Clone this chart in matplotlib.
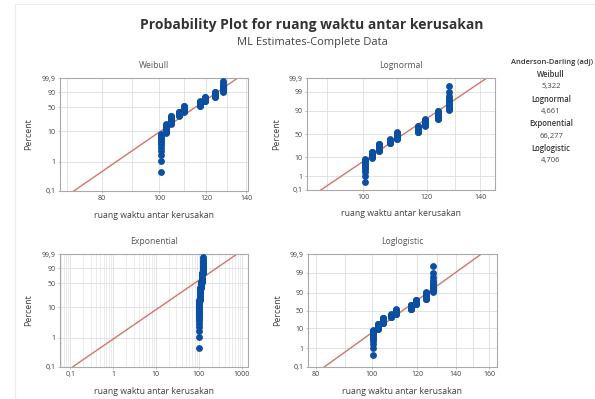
import math

import matplotlib

matplotlib.use("Agg")

import matplotlib.pyplot as plt  # noqa: E402
import numpy as np  # noqa: E402
from matplotlib.lines import Line2D  # noqa: E402
from matplotlib.ticker import FixedLocator, FuncFormatter, NullFormatter, NullLocator  # noqa: E402

plt.rcParams["font.family"] = ["Open Sans", "DejaVu Sans"]

# observed values (stacks of tied values) and how many in each stack
stack_values = [100.5, 102.5, 104.5, 108, 110, 117, 119.5, 124, 128]
stack_counts = [14, 13, 21, 14, 24, 22, 19, 18, 15]

# ML fit parameters
weibull_shape, weibull_scale = 13.9, 117.9
lognormal_loc, lognormal_scale = math.log(112.3), 0.0773
exponential_mean = 113.0
loglogistic_loc, loglogistic_scale = math.log(113.2), 0.0455

ad_names = ["Weibull", "Lognormal", "Exponential", "Loglogistic"]
ad_values = ["5,322", "4,661", "66,277", "4,706"]

ticks_pct_weib = [0.1, 1, 10, 50, 90, 99.9]
ticks_pct_norm = [0.1, 1, 10, 50, 90, 99, 99.9]

BLUE = "#0b4fa3"
RED = "#d27569"
GRID = "#e3e3e3"
SPINE = "#a9a9a9"
TEXT = "#404040"

_erf = np.vectorize(math.erf)


def norm_ppf(p):
    p = np.clip(np.asarray(p, dtype=float), 1e-12, 1 - 1e-12)
    a = [-3.969683028665376e+01, 2.209460984245205e+02, -2.759285104469687e+02,
         1.383577518672690e+02, -3.066479806614716e+01, 2.506628277459239e+00]
    b = [-5.447609879822406e+01, 1.615858368580409e+02, -1.556989798598866e+02,
         6.680131188771972e+01, -1.328068155288572e+01]
    c = [-7.784894002430293e-03, -3.223964580411365e-01, -2.400758277161838e+00,
         -2.549732539343734e+00, 4.374664141464968e+00, 2.938163982698783e+00]
    d = [7.784695709041462e-03, 3.224671290700398e-01, 2.445134137142996e+00,
         3.754408661907416e+00]
    plow = 0.02425
    q = np.sqrt(-2 * np.log(np.where(p < 0.5, p, 1 - p)))
    tail = (((((c[0] * q + c[1]) * q + c[2]) * q + c[3]) * q + c[4]) * q + c[5]) / \
        ((((d[0] * q + d[1]) * q + d[2]) * q + d[3]) * q + 1)
    tail = np.where(p < 0.5, tail, -tail)
    r0 = p - 0.5
    r = r0 * r0
    mid = (((((a[0] * r + a[1]) * r + a[2]) * r + a[3]) * r + a[4]) * r + a[5]) * r0 / \
        (((((b[0] * r + b[1]) * r + b[2]) * r + b[3]) * r + b[4]) * r + 1)
    return np.where((p < plow) | (p > 1 - plow), tail, mid)


def norm_cdf(z):
    return 0.5 * (1 + _erf(np.asarray(z, dtype=float) / math.sqrt(2)))


def _pct(y):
    return np.clip(np.asarray(y, dtype=float) / 100.0, 1e-9, 1 - 1e-9)


weib_scale = (lambda y: np.log(-np.log(1 - _pct(y))),
              lambda w: 100 * (1 - np.exp(-np.exp(np.asarray(w, dtype=float)))))
norm_scale = (lambda y: norm_ppf(_pct(y)),
              lambda z: 100 * norm_cdf(z))
logit_scale = (lambda y: np.log(_pct(y) / (1 - _pct(y))),
               lambda v: 100 / (1 + np.exp(-np.asarray(v, dtype=float))))

comma = FuncFormatter(lambda v, pos: f"{v:g}".replace(".", ","))

# plotting positions: median ranks, ties kept as separate ranks
data = np.repeat(stack_values, stack_counts)
n = len(data)
ranks = np.arange(1, n + 1)
plot_pct = (ranks - 0.3) / (n + 0.4) * 100

line_p = np.linspace(0.001, 0.999, 50)
z = norm_ppf(line_p)
logit = np.log(line_p / (1 - line_p))
fits = {
    "Weibull": weibull_scale * (-np.log(1 - line_p)) ** (1 / weibull_shape),
    "Lognormal": np.exp(lognormal_loc + lognormal_scale * z),
    "Exponential": -exponential_mean * np.log(1 - line_p),
    "Loglogistic": np.exp(loglogistic_loc + loglogistic_scale * logit),
}

panels = [
    # name, axes box in px (left, top, right, bottom), y scale, y ticks, xlim, x ticks, x grid
    ("Weibull", (60, 78, 248, 191), weib_scale, ticks_pct_weib, (68, 141),
     [80, 100, 120, 140], list(range(70, 141, 10))),
    ("Lognormal", (307, 78, 495, 190), norm_scale, ticks_pct_norm, (85, 146),
     [100, 120, 140], list(range(90, 141, 10))),
    ("Exponential", (60, 254, 248, 367), weib_scale, ticks_pct_weib, (0.058, 1400),
     [0.1, 1, 10, 100, 1000],
     [m * 10.0 ** e for e in range(-2, 4) for m in range(2, 10)]),
    ("Loglogistic", (308, 254, 497, 367), logit_scale, ticks_pct_norm, (77.5, 165),
     [80, 100, 120, 140, 160], list(range(80, 161, 10))),
]

W, H = 595, 399
fig = plt.figure(figsize=(W / 100, H / 100), dpi=100)

for name, (l, t, r, b), yscale, yticks, xlim, xticks, xgrid in panels:
    ax = fig.add_axes([l / W, 1 - b / H, (r - l) / W, (b - t) / H])
    ax.set_xscale("log")
    ax.set_yscale("function", functions=yscale)
    ax.plot(fits[name], line_p * 100, color=RED, lw=1.0, zorder=2)
    ax.plot(data, plot_pct, "o", color=BLUE, ms=3.9, mec=BLUE, zorder=3)
    ax.set_xlim(*xlim)
    ax.set_ylim(0.1, 99.9)
    ax.xaxis.set_major_locator(FixedLocator(xticks))
    ax.xaxis.set_minor_locator(FixedLocator([g for g in xgrid if g not in xticks]))
    ax.xaxis.set_major_formatter(comma)
    ax.xaxis.set_minor_formatter(NullFormatter())
    ax.yaxis.set_major_locator(FixedLocator(yticks))
    ax.yaxis.set_minor_locator(NullLocator())
    ax.yaxis.set_major_formatter(comma)
    minor_grid = "#ececec" if name == "Exponential" else GRID
    ax.grid(True, which="major", axis="x", color=GRID, lw=0.7)
    ax.grid(True, which="minor", axis="x", color=minor_grid, lw=0.7)
    ax.grid(True, which="major", axis="y", color=GRID, lw=0.7)
    ax.set_axisbelow(True)
    for spine in ax.spines.values():
        spine.set_color(SPINE)
        spine.set_linewidth(0.8)
    ax.tick_params(which="both", length=1.5, width=0.5, color=SPINE, labelsize=5,
                   labelcolor=TEXT, pad=1.5)
    ax.tick_params(which="minor", length=0)
    ax.set_title(name, fontsize=6.2, color="#555555", pad=7)
    ax.set_xlabel("ruang waktu antar kerusakan", fontsize=6.3, color=TEXT, labelpad=6)
    ax.set_ylabel("Percent", fontsize=6.3, color=TEXT, labelpad=6)

fig.text(312 / W, 1 - 25 / H, "Probability Plot for ruang waktu antar kerusakan",
         ha="center", va="center", fontsize=10, fontweight="bold", color="#333333")
fig.text(312 / W, 1 - 43 / H, "ML Estimates-Complete Data",
         ha="center", va="center", fontsize=8, color="#444444")

fig.text(593 / W, 1 - 62.5 / H, "Anderson-Darling (adj)", ha="right", va="center",
         fontsize=5.4, fontweight="semibold", color="#333333")
for i, (name, value) in enumerate(zip(ad_names, ad_values)):
    fig.text(551 / W, 1 - (74.5 + 24.7 * i) / H, name, ha="center", va="center",
             fontsize=5.5, fontweight="semibold", color="#333333")
    fig.text(551 / W, 1 - (86.8 + 24.7 * i) / H, value, ha="center", va="center",
             fontsize=5.5, color="#444444")

# faint frame edges visible in the screenshot
fig.add_artist(Line2D([15 / W, 15 / W], [0, 1 - 4 / H], color="#ececec", lw=0.8))
fig.add_artist(Line2D([15 / W, 1], [1 - 4 / H, 1 - 4 / H], color="#ececec", lw=0.8))

fig.savefig("out.png", dpi=100)
